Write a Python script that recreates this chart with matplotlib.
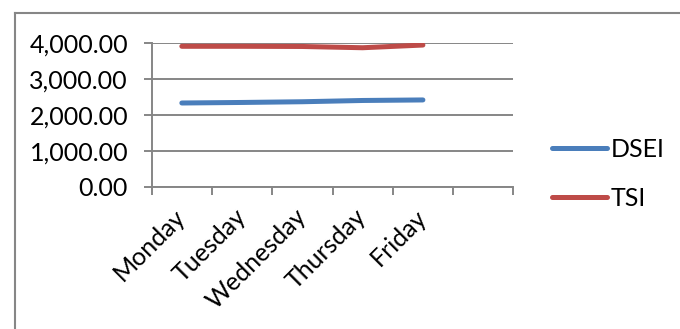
import numpy as np
import matplotlib
matplotlib.use("Agg")
import matplotlib.pyplot as plt
from matplotlib.lines import Line2D
from matplotlib.ticker import FuncFormatter

days = ["Monday", "Tuesday", "Wednesday", "Thursday", "Friday"]
n_slots = 6  # the category axis has one empty slot on the right
dsei = [2325, 2340, 2360, 2395, 2410]
tsi = [3900, 3900, 3895, 3860, 3935]
y_ticks = [0, 1000, 2000, 3000, 4000]

BLUE = "#4A7EBB"
RED = "#BE4B48"
GRAY = "#868686"

plt.rcParams["font.family"] = ["Lato", "DejaVu Sans"]
FS = 18

fig = plt.figure(figsize=(6.8, 3.29), dpi=100)
ax = fig.add_axes([151.7 / 680, 1 - 186.7 / 329, (513.3 - 151.7) / 680, (186.7 - 42.7) / 329])

x = np.arange(len(days)) + 0.5
ax.plot(x, dsei, color=BLUE, lw=3.6, solid_capstyle="round", label="DSEI")
ax.plot(x, tsi, color=RED, lw=3.6, solid_capstyle="round", label="TSI")

ax.set_xlim(0, n_slots)
ax.set_ylim(0, 4000)
ax.set_yticks(y_ticks)
ax.yaxis.set_major_formatter(FuncFormatter(lambda v, p: f"{v:,.2f}"))
ax.yaxis.grid(True, color=GRAY, lw=1.4)
ax.set_axisbelow(True)

# boundaries carry the tick marks, centres carry the labels
ax.set_xticks(np.arange(n_slots + 1))
ax.set_xticklabels([])
ax.set_xticks(x, minor=True)
ax.set_xticklabels(days, minor=True, rotation=45, ha="right", va="center",
                   rotation_mode="anchor", fontsize=FS)
ax.tick_params(axis="x", which="minor", length=0, pad=19)
ax.tick_params(axis="x", which="major", length=6, width=1.4, color=GRAY)
ax.tick_params(axis="y", length=6, width=1.4, color=GRAY, pad=11, labelsize=FS)

for side in ["top", "right"]:
    ax.spines[side].set_visible(False)
for side in ["left", "bottom"]:
    ax.spines[side].set_color(GRAY)
    ax.spines[side].set_linewidth(1.4)

fig.legend(loc="center left", bbox_to_anchor=(552 / 680, 1 - 174 / 329),
           frameon=False, fontsize=FS, handlelength=2.2, handletextpad=0.15,
           labelspacing=1.05, borderpad=0, borderaxespad=0)

# outer chart border (runs off the right and bottom of the image)
fx, fy = 14.7 / 680, 1 - 12.7 / 329
fig.add_artist(Line2D([fx, 1.01], [fy, fy], transform=fig.transFigure, color=GRAY, lw=1.5))
fig.add_artist(Line2D([fx, fx], [fy, -0.01], transform=fig.transFigure, color=GRAY, lw=1.5))

fig.savefig("out.png", dpi=100, facecolor="white")
